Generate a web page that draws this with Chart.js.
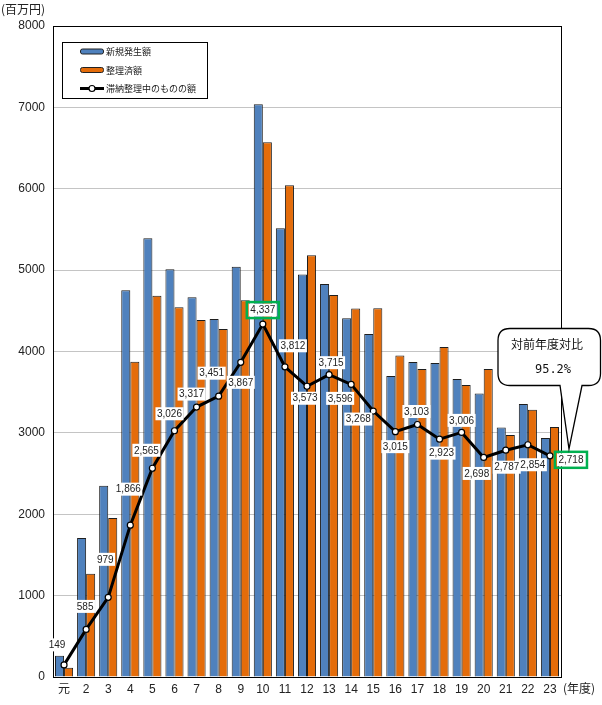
<!DOCTYPE html>
<html>
<head>
<meta charset="utf-8">
<script src="https://cdn.jsdelivr.net/npm/chart.js@4/dist/chart.umd.min.js"></script>
<style>
  html, body { margin: 0; padding: 0; background: #fff; }
  canvas { display: block; }
</style>
</head>
<body>
<canvas id="myChart" width="602" height="705"></canvas>
<script>
// fiscal years (Heisei 元 .. 23)
const years = ['元','2','3','4','5','6','7','8','9','10','11','12','13','14','15','16','17','18','19','20','21','22','23'];
// 新規発生額 (blue)
const newAmount = [262, 1708, 2350, 4754, 5393, 5012, 4668, 4400, 5040, 7039, 5516, 4945, 4828, 4410, 4214, 3698, 3870, 3860, 3661, 3485, 3065, 3354, 2936];
// 整理済額 (orange)
const settled = [115, 1270, 1953, 3875, 4685, 4545, 4386, 4275, 4631, 6572, 6044, 5184, 4693, 4527, 4533, 3950, 3784, 4054, 3587, 3784, 2973, 3285, 3071];
// 滞納整理中のものの額 (line)
const pending = [149, 585, 979, 1866, 2565, 3026, 3317, 3451, 3867, 4337, 3812, 3573, 3715, 3596, 3268, 3015, 3103, 2923, 3006, 2698, 2787, 2854, 2718];

const seriesNames = ['新規発生額', '整理済額', '滞納整理中のものの額'];
const yUnit = '(百万円)';
const xUnit = '(年度)';
const noteTitle = '対前年度対比';
const noteValue = '95.2%';

// where each line label sits relative to its point (px)
const labelShift = [[-7,-20],[-1,-23],[-3,-38],[-2,-36],[-6,-18],[-5,-17],[-5,-13],[-7,-23],[0,20],[0,-14],
  [8,-21],[-2,12],[2,-12],[-11,14],[-15,8],[0,15],[-1,-13],[2,14],[0,-12],[-7,16],[1,17],[5,20],[21,4]];
const greenBoxes = [9, 22];

const NUM_FONT = '"Liberation Sans", Arial, sans-serif';
const JP_FONT = '"Noto Sans CJK JP", sans-serif';

const BLUE = '#4F81BD';
const ORANGE = '#E46C0A';

const decor = {
  id: 'decor',
  beforeDatasetsDraw(chart) {
    const {ctx, chartArea: a} = chart;
    ctx.save();
    ctx.strokeStyle = '#000';
    ctx.lineWidth = 1;
    ctx.strokeRect(Math.round(a.left) + 0.5, Math.round(a.top) + 0.5, Math.round(a.right - a.left), Math.round(a.bottom - a.top));
    ctx.restore();
  },
  afterDatasetsDraw(chart) {
    const ctx = chart.ctx;
    const meta = chart.getDatasetMeta(2);
    ctx.save();
    ctx.font = '10px ' + NUM_FONT;
    ctx.textAlign = 'center';
    ctx.textBaseline = 'middle';
    meta.data.forEach((pt, i) => {
      const txt = pending[i].toLocaleString('en-US');
      const x = pt.x + labelShift[i][0];
      const y = pt.y + labelShift[i][1];
      const w = ctx.measureText(txt).width + 3;
      const h = 13;
      ctx.fillStyle = '#fff';
      ctx.fillRect(x - w / 2, y - h / 2, w, h);
      if (greenBoxes.includes(i)) {
        ctx.strokeStyle = '#00B050';
        ctx.lineWidth = 2.5;
        ctx.strokeRect(x - w / 2 - 2, y - h / 2 - 1.5, w + 4, h + 3);
      }
      ctx.fillStyle = '#222';
      ctx.fillText(txt, x, y + 0.5);
    });
    ctx.restore();
  },
  afterDraw(chart) {
    const ctx = chart.ctx;
    ctx.save();
    // unit texts
    ctx.fillStyle = '#222';
    ctx.font = '12px ' + JP_FONT;
    ctx.textBaseline = 'middle';
    ctx.textAlign = 'left';
    ctx.fillText(yUnit, 1, 9);
    ctx.fillText(xUnit, 563, 688);

    // legend box
    ctx.fillStyle = '#fff';
    ctx.fillRect(62, 42, 145, 56);
    ctx.strokeStyle = '#000';
    ctx.lineWidth = 1;
    ctx.strokeRect(62.5, 42.5, 145, 56);
    const rows = [51.5, 70, 88.5];
    [BLUE, ORANGE].forEach((c, k) => {
      ctx.fillStyle = c;
      ctx.strokeStyle = '#222';
      ctx.beginPath();
      ctx.roundRect(80.5, rows[k] - 2.5, 23, 5, 2);
      ctx.fill();
      ctx.stroke();
    });
    ctx.strokeStyle = '#000';
    ctx.lineWidth = 3;
    ctx.beginPath();
    ctx.moveTo(80, rows[2]);
    ctx.lineTo(104, rows[2]);
    ctx.stroke();
    ctx.fillStyle = '#fff';
    ctx.lineWidth = 1.2;
    ctx.beginPath();
    ctx.arc(92, rows[2], 3, 0, Math.PI * 2);
    ctx.fill();
    ctx.stroke();
    ctx.fillStyle = '#222';
    ctx.font = '9px ' + JP_FONT;
    seriesNames.forEach((n, k) => ctx.fillText(n, 106, rows[k] + 0.5));

    // callout bubble
    const L = 498, R = 600.5, T = 328.5, B = 385.5, r = 12;
    ctx.beginPath();
    ctx.moveTo(L + r, T);
    ctx.lineTo(R - r, T);
    ctx.quadraticCurveTo(R, T, R, T + r);
    ctx.lineTo(R, B - r);
    ctx.quadraticCurveTo(R, B, R - r, B);
    ctx.lineTo(582, B);
    ctx.lineTo(569, 449);
    ctx.lineTo(560, B);
    ctx.lineTo(L + r, B);
    ctx.quadraticCurveTo(L, B, L, B - r);
    ctx.lineTo(L, T + r);
    ctx.quadraticCurveTo(L, T, L + r, T);
    ctx.closePath();
    ctx.fillStyle = '#fff';
    ctx.fill();
    ctx.strokeStyle = '#000';
    ctx.lineWidth = 1.3;
    ctx.stroke();
    ctx.fillStyle = '#111';
    ctx.textAlign = 'center';
    ctx.font = '12px ' + JP_FONT;
    ctx.fillText(noteTitle, 547, 344);
    ctx.font = '12px "DejaVu Sans Mono", "Liberation Mono", monospace';
    ctx.fillText(noteValue, 553, 370);
    ctx.restore();
  }
};

new Chart(document.getElementById('myChart'), {
  type: 'bar',
  data: {
    labels: years,
    datasets: [
      { label: seriesNames[0], data: newAmount, backgroundColor: BLUE, borderColor: '#1e1e1e', borderWidth: 1, order: 2,
        categoryPercentage: 0.82, barPercentage: 1.0 },
      { label: seriesNames[1], data: settled, backgroundColor: ORANGE, borderColor: '#1e1e1e', borderWidth: 1, order: 2,
        categoryPercentage: 0.82, barPercentage: 1.0 },
      { type: 'line', label: seriesNames[2], data: pending, borderColor: '#000', borderWidth: 3, tension: 0,
        pointRadius: 3, pointBackgroundColor: '#fff', pointBorderColor: '#000', pointBorderWidth: 1.2, order: 1 }
    ]
  },
  options: {
    responsive: false,
    animation: false,
    layout: { padding: { top: 26, right: 41, left: 0, bottom: 0 } },
    plugins: { legend: { display: false }, tooltip: { enabled: false } },
    scales: {
      x: {
        grid: { display: false, drawTicks: false },
        border: { color: '#000', width: 1 },
        ticks: { color: '#222', font: { size: 12, family: NUM_FONT + ', ' + JP_FONT }, padding: 5, maxRotation: 0, autoSkip: false },
        afterFit(s) { s.height = 28; }
      },
      y: {
        min: 0,
        max: 8000,
        grid: { color: '#c4c4c4', drawTicks: false },
        border: { color: '#000', width: 1 },
        ticks: { stepSize: 1000, color: '#222', font: { size: 12, family: NUM_FONT }, padding: 8,
          callback: v => String(v) },
        afterFit(s) { s.width = 53; }
      }
    }
  },
  plugins: [decor]
});
</script>
</body>
</html>
